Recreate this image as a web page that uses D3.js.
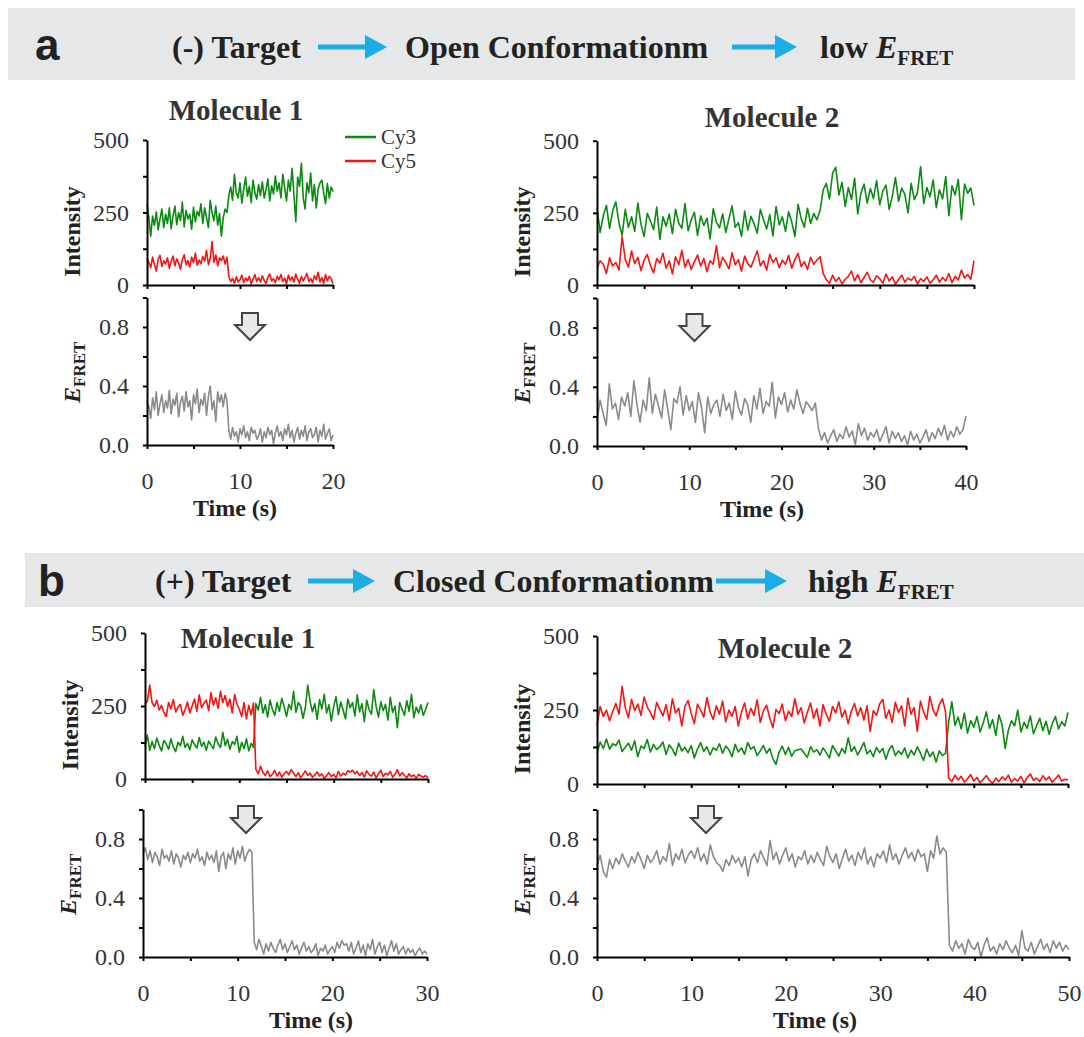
<!DOCTYPE html>
<html>
<head>
<meta charset="utf-8">
<script src="https://cdn.jsdelivr.net/npm/d3@7"></script>
<style>
    body { margin: 0; background: #fff; overflow: hidden; }
    text { font-family: "Liberation Serif", "Times New Roman", serif; }
    .axis path, .axis line { stroke: #000; stroke-width: 2; }
</style>
</head>
<body>
<div id="chart"></div>
<script>
// ---- values (one frame per entry, evenly spaced in time) ----

// panel a, molecule 1 : 0-20 s
var a1Cy3 = [280,232,168,238,205,252,190,228,262,198,
    244,212,266,194,238,272,208,250,222,286,
    200,258,228,244,192,268,218,254,238,280,
    212,266,232,198,292,248,222,272,206,246,
    168,232,262,250,
    310,338,292,382,318,300,
    352,282,330,372,306,340,284,362,318,296,
    346,308,356,300,330,366,290,342,314,376,
    324,352,300,382,336,290,362,324,402,312,
    218,372,340,420,300,262,352,318,386,290,
    346,266,330,352,362,318,280,350,300,338,
    322];
var a1Cy5 = [92,78,60,96,70,48,88,102,64,84,
    72,94,58,82,100,66,90,76,54,88,
    104,70,84,62,96,78,110,68,86,74,
    98,82,120,70,92,150,78,104,66,94,
    84,100,72,96,
    30,12,22,6,28,10,
    18,34,8,24,14,30,4,20,36,12,
    26,10,32,16,6,28,38,14,22,8,
    30,18,36,12,24,4,34,16,28,10,
    38,20,6,30,14,26,40,12,22,8,
    32,18,44,10,26,6,36,14,30,22,
    4];
var a1Fret = [.30,.26,.18,.32,.24,.36,.20,.28,.34,.22,
    .30,.25,.37,.21,.31,.27,.35,.19,.29,.33,
    .23,.36,.26,.30,.17,.34,.28,.38,.22,.31,
    .27,.35,.20,.33,.40,.24,.30,.16,.36,.29,
    .34,.26,.35,.30,
    .10,.04,.12,.06,.09,.02,
    .11,.07,.13,.05,.09,.03,.12,.08,.10,.04,
    .06,.11,.02,.09,.05,.12,.07,.10,.01,.08,
    .13,.06,.09,.03,.11,.07,.14,.05,.10,.02,
    .08,.12,.04,.10,.06,.13,.03,.09,.11,.05,
    .07,.12,.02,.10,.06,.14,.04,.08,.11,.03,
    .07];

// panel a, molecule 2 : 0-40 s
var a2Cy3 = [268,182,240,276,196,258,288,214,172,262,
    200,236,186,284,210,168,248,222,192,270,
    158,236,204,246,178,262,214,196,282,188,
    226,252,172,240,206,232,160,264,218,198,
    246,182,230,274,200,216,168,256,190,238,
    212,180,262,226,194,244,170,272,208,236,
    186,254,218,168,280,230,200,266,214,248,
    226,258,
    330,352,298,388,408,312,356,272,
    338,296,370,246,318,350,284,334,300,362,
    278,326,346,262,308,372,290,336,314,250,
    352,296,320,410,282,338,306,364,268,330,
    298,376,240,344,312,366,226,350,318,336,
    276];
var a2Cy5 = [58,84,72,40,94,66,78,52,168,88,
    62,118,74,96,50,86,106,68,42,92,
    76,110,58,84,38,98,70,120,62,88,
    54,80,104,66,92,46,84,72,136,60,
    96,78,56,112,70,88,48,100,74,62,
    90,118,66,84,52,106,78,94,60,86,
    72,102,58,88,110,64,80,54,96,72,
    86,98,
    40,18,6,34,12,26,4,20,
    30,48,14,36,8,26,44,18,10,32,
    22,6,38,14,28,2,20,34,10,24,
    16,30,4,22,12,28,6,18,34,10,
    26,14,40,8,30,18,52,24,36,20,
    84];
var a2Fret = [.17,.31,.22,.14,.42,.25,.29,.18,.33,.27,
    .36,.20,.44,.28,.16,.31,.24,.46,.22,.35,
    .27,.19,.38,.25,.11,.32,.29,.40,.21,.34,
    .24,.30,.16,.36,.26,.09,.33,.22,.28,.31,
    .20,.35,.24,.29,.18,.37,.26,.21,.32,.28,
    .16,.34,.25,.39,.22,.30,.27,.43,.19,.33,
    .28,.36,.23,.31,.25,.38,.29,.22,.30,.27,
    .24,.29,
    .12,.04,.09,.02,.07,.11,.03,.08,
    .05,.13,.06,.10,.01,.15,.07,.12,.04,.09,
    .06,.11,.03,.08,.13,.02,.10,.05,.09,.03,
    .07,.01,.10,.04,.08,.02,.06,.11,.03,.09,
    .05,.12,.07,.14,.04,.10,.06,.13,.08,.11,
    .20];

// panel b, molecule 1 : 0-30 s
var b1Cy3 = [112,150,98,128,104,140,116,96,132,120,
    102,138,110,94,126,114,146,108,122,100,
    134,118,106,142,112,126,98,130,116,104,
    144,120,108,160,114,136,102,128,118,146,
    92,126,104,138,96,122,108,
    258,236,280,
    226,254,212,270,240,218,262,232,276,248,
    214,256,238,300,228,262,250,208,244,322,
    266,230,258,204,272,240,290,226,254,198,
    248,282,220,264,236,206,274,244,262,216,
    288,230,258,196,270,238,222,306,248,212,
    264,234,256,202,280,228,250,176,262,240,
    218,268,232,290,210,246,226,254,218,238,
    262];
var b1Cy5 = [258,266,322,262,248,270,236,252,228,214,
    262,240,272,230,246,256,218,238,264,226,
    250,274,232,288,244,260,270,234,296,252,
    278,242,300,262,286,248,274,226,290,256,
    238,214,262,206,252,220,260,
    34,18,44,
    22,12,28,8,16,30,10,24,6,18,
    26,14,32,20,8,22,4,16,28,12,
    20,6,14,24,10,18,2,12,22,8,
    16,4,26,10,20,14,28,24,30,18,
    26,12,22,6,28,16,10,24,4,18,
    30,8,20,14,26,6,16,32,10,22,
    12,4,18,8,14,2,16,10,6,12,
    4];
var b1Fret = [.70,.74,.66,.72,.64,.71,.68,.62,.73,.67,
    .69,.65,.72,.63,.70,.67,.61,.69,.66,.71,
    .64,.70,.67,.73,.65,.68,.62,.71,.66,.69,
    .64,.72,.58,.68,.71,.60,.70,.66,.74,.63,
    .72,.67,.75,.65,.70,.73,.71,
    .10,.05,.12,
    .07,.02,.09,.04,.10,.06,.03,.08,.12,.05,
    .09,.03,.07,.11,.05,.08,.02,.06,.10,.04,
    .07,.03,.05,.09,.01,.06,.04,.08,.02,.05,
    .07,.03,.10,.06,.11,.08,.09,.04,.10,.02,
    .06,.11,.03,.08,.01,.09,.05,.12,.02,.07,
    .10,.03,.08,.01,.06,.11,.04,.09,.02,.05,
    .07,.02,.06,.03,.05,.01,.04,.06,.02,.04,
    .02];

// panel b, molecule 2 : 0-50 s
var b2Cy3 = [104,142,120,152,118,136,130,148,110,124,
    138,114,146,92,128,120,150,108,134,116,
    126,142,100,132,118,96,138,112,124,106,
    130,88,118,140,110,126,98,122,114,136,
    104,128,116,92,134,108,122,100,140,118,
    126,96,112,130,104,120,86,66,108,128,
    100,124,94,112,116,118,104,90,126,108,
    116,98,122,106,88,130,112,94,120,104,
    156,110,126,98,118,140,102,114,92,124,
    106,120,84,116,130,96,112,100,122,88,
    114,98,126,104,80,118,92,108,74,112,
    96,104,
    210,278,198,226,186,240,172,214,
    192,228,176,206,244,188,218,164,234,200,
    120,182,214,196,250,176,208,188,230,170,
    196,222,180,212,168,204,228,186,210,196,
    242];
var b2Cy5 = [196,262,228,250,214,244,272,236,330,258,
    224,286,248,270,232,294,260,242,218,276,
    252,230,268,214,288,240,256,196,262,282,
    238,204,270,250,226,292,244,218,264,236,
    280,210,250,228,262,196,242,274,220,256,
    232,284,208,248,266,224,190,252,238,270,
    214,246,228,288,236,258,206,242,274,222,
    254,196,268,236,212,262,240,278,226,250,
    204,246,272,230,258,216,264,178,248,232,
    270,286,222,250,208,276,242,264,196,290,
    236,258,178,280,244,218,296,252,230,268,
    288,244,
    20,8,30,14,26,6,18,32,
    10,22,4,16,28,12,2,20,8,24,
    14,30,6,18,10,26,4,22,34,12,
    20,8,28,14,24,6,18,30,10,16,
    14];
var b2Fret = [.62,.69,.58,.54,.66,.60,.67,.63,.70,.65,
    .61,.68,.64,.71,.66,.60,.69,.64,.67,.72,
    .63,.68,.65,.77,.62,.70,.66,.73,.64,.69,
    .72,.67,.74,.65,.70,.63,.76,.68,.64,.62,
    .58,.66,.62,.69,.64,.67,.61,.68,.55,.66,
    .70,.64,.72,.67,.62,.79,.66,.71,.63,.69,
    .74,.65,.70,.61,.68,.66,.72,.63,.69,.64,
    .71,.66,.62,.75,.68,.64,.70,.60,.67,.73,
    .65,.69,.62,.71,.66,.74,.63,.68,.61,.70,
    .67,.72,.64,.76,.66,.70,.63,.69,.74,.67,
    .71,.65,.73,.68,.70,.58,.72,.67,.82,.70,
    .74,.71,
    .08,.04,.11,.06,.09,.02,.12,.07,
    .05,.10,.00,.08,.13,.04,.07,.02,.09,.05,
    .11,.06,.03,.08,.01,.18,.06,.04,.10,.02,
    .07,.12,.05,.09,.03,.11,.06,.10,.04,.08,
    .05];

// axis ticks and labels
var intensityTicks = [0, 125, 250, 375, 500];
var intensityLabels = [0, 250, 500];
var fretTicks = [0, 0.2, 0.4, 0.6, 0.8, 1.0];
var fretLabels = [0, 0.4, 0.8];
var legendNames = ["Cy3", "Cy5"];

var green = "#0b8a12", red = "#f51414", gray = "#8a8a8a", cyan = "#1aade8";

// ---- layout of the four molecule panels ----
var panels = [
    { title: "Molecule 1", titleX: 236, titleY: 120, tMax: 20,
      ix: [147, 333], iy: [285, 140], fx: [147, 333], fy: [445, 297.5],
      timeX: 235, arrow: [250, 313], legend: true,
      cy3: a1Cy3, cy5: a1Cy5, fret: a1Fret },
    { title: "Molecule 2", titleX: 772, titleY: 127, tMax: 40,
      ix: [597, 974], iy: [285, 140.7], fx: [597, 966], fy: [446, 298],
      timeX: 762, arrow: [694.5, 314], legend: false,
      cy3: a2Cy3, cy5: a2Cy5, fret: a2Fret },
    { title: "Molecule 1", titleX: 248, titleY: 648, tMax: 30,
      ix: [145, 428], iy: [779, 633], fx: [143, 427], fy: [957, 809.5],
      timeX: 311, arrow: [246, 806], legend: false,
      cy3: b1Cy3, cy5: b1Cy5, fret: b1Fret },
    { title: "Molecule 2", titleX: 785, titleY: 658, tMax: 50,
      ix: [597, 1068], iy: [784, 636], fx: [597, 1069], fy: [957, 809.5],
      timeX: 815, arrow: [706, 806], legend: false,
      cy3: b2Cy3, cy5: b2Cy5, fret: b2Fret }
];

var svg = d3.select("#chart").append("svg")
    .attr("width", 1084)
    .attr("height", 1037);

// ---- header bands ----
function drawArrow(x0, x1, y) {
    svg.append("line")
        .attr("x1", x0).attr("x2", x1 - 18)
        .attr("y1", y).attr("y2", y)
        .attr("stroke", cyan).attr("stroke-width", 5);
    svg.append("path")
        .attr("d", "M" + (x1 - 22) + "," + (y - 12) + "L" + x1 + "," + y + "L" + (x1 - 22) + "," + (y + 12) + "Z")
        .attr("fill", cyan);
}

function drawHeader(band, letter, items, arrows, base) {
    svg.append("rect")
        .attr("x", band[0]).attr("y", band[1])
        .attr("width", band[2]).attr("height", band[3])
        .attr("fill", "#e6e7e8");
    svg.append("text")
        .attr("x", letter[1]).attr("y", letter[2])
        .style("font-family", "'Liberation Sans', Arial, sans-serif")
        .style("font-weight", "bold").style("font-size", "44px")
        .attr("fill", "#222")
        .text(letter[0]);
    items.forEach(function (it) {
        var t = svg.append("text")
            .attr("x", it.x).attr("y", base)
            .style("font-weight", "bold").style("font-size", "32px")
            .attr("fill", "#222");
        t.append("tspan").text(it.text);
        if (it.efret) {
            t.append("tspan").style("font-style", "italic").text("E");
            t.append("tspan").style("font-size", "21px").attr("dy", 7).text("FRET");
        }
    });
    arrows.forEach(function (a) { drawArrow(a[0], a[1], base - 11); });
}

drawHeader([8, 8, 1067, 72], ["a", 35, 60],
    [{ x: 172, text: "(-) Target" }, { x: 405, text: "Open Conformationm" }, { x: 820, text: "low ", efret: true }],
    [[318, 387], [732, 797]], 58);

drawHeader([25, 553, 1059, 54], ["b", 38, 596],
    [{ x: 155, text: "(+) Target" }, { x: 393, text: "Closed Conformationm" }, { x: 808, text: "high ", efret: true }],
    [[308, 375], [716, 787]], 592);

// ---- molecule panels ----
function yLabel(x, y, isFret) {
    var t = svg.append("text")
        .attr("transform", "translate(" + x + "," + y + ") rotate(-90)")
        .attr("text-anchor", "middle")
        .style("font-weight", "bold").style("font-size", "24px")
        .attr("fill", "#222");
    if (isFret) {
        t.append("tspan").style("font-style", "italic").text("E");
        t.append("tspan").style("font-size", "17px").attr("dy", 5).text("FRET");
    } else {
        t.text("Intensity");
    }
}

// serif tick labels (d3 axis puts sans-serif on the group)
function styleAxis(g) {
    g.attr("font-family", null).attr("font-size", null);
    g.selectAll("text")
        .style("font-family", "'Liberation Serif', 'Times New Roman', serif")
        .style("font-size", "24px")
        .attr("fill", "#333");
}

panels.forEach(function (p) {
    var xI = d3.scaleLinear().domain([0, p.tMax]).range(p.ix);
    var yI = d3.scaleLinear().domain([0, 500]).range(p.iy);
    var xF = d3.scaleLinear().domain([0, p.tMax]).range(p.fx);
    var yF = d3.scaleLinear().domain([0, 1]).range(p.fy);
    var xTicks = d3.range(0, p.tMax + 0.01, 5);

    // title
    svg.append("text")
        .attr("x", p.titleX).attr("y", p.titleY)
        .attr("text-anchor", "middle")
        .style("font-weight", "bold").style("font-size", "29px")
        .attr("fill", "#333")
        .text(p.title);

    // traces
    function trace(arr, xs, ys, color) {
        var line = d3.line()
            .x(function (d, i) { return xs(i * p.tMax / (arr.length - 1)); })
            .y(function (d) { return ys(d); });
        svg.append("path")
            .datum(arr)
            .attr("d", line)
            .attr("fill", "none")
            .attr("stroke", color)
            .attr("stroke-width", 1.6)
            .attr("stroke-linejoin", "round");
    }
    trace(p.cy3, xI, yI, green);
    trace(p.cy5, xI, yI, red);
    trace(p.fret, xF, yF, gray);

    // intensity axes
    svg.append("g").attr("class", "axis")
        .attr("transform", "translate(0," + p.iy[0] + ")")
        .call(d3.axisBottom(xI).tickValues(xTicks).tickSize(4).tickSizeOuter(0).tickFormat(""))
        .call(styleAxis);
    svg.append("g").attr("class", "axis")
        .attr("transform", "translate(" + p.ix[0] + ",0)")
        .call(d3.axisLeft(yI).tickValues(intensityTicks).tickSize(4).tickSizeOuter(0).tickPadding(14)
            .tickFormat(function (d) { return intensityLabels.indexOf(d) >= 0 ? d : ""; }))
        .call(styleAxis);

    // FRET axes
    svg.append("g").attr("class", "axis")
        .attr("transform", "translate(0," + p.fy[0] + ")")
        .call(d3.axisBottom(xF).tickValues(xTicks).tickSize(4).tickSizeOuter(0).tickPadding(23)
            .tickFormat(function (d) { return d % 10 === 0 ? d : ""; }))
        .call(styleAxis);
    svg.append("g").attr("class", "axis")
        .attr("transform", "translate(" + p.fx[0] + ",0)")
        .call(d3.axisLeft(yF).tickValues(fretTicks).tickSize(4).tickSizeOuter(0).tickPadding(14)
            .tickFormat(function (d) { return fretLabels.indexOf(d) >= 0 ? d3.format(".1f")(d) : ""; }))
        .call(styleAxis);

    // axis titles
    yLabel(p.ix[0] - 67, (p.iy[0] + p.iy[1]) / 2 + 19, false);
    yLabel(p.fx[0] - 67, (p.fy[0] + p.fy[1]) / 2 + 1, true);
    svg.append("text")
        .attr("x", p.timeX).attr("y", p.fy[0] + 71)
        .attr("text-anchor", "middle")
        .style("font-weight", "bold").style("font-size", "24px")
        .attr("fill", "#222")
        .text("Time (s)");

    // hollow down arrow
    var ax = p.arrow[0], ay = p.arrow[1];
    svg.append("path")
        .attr("d", "M" + (ax - 8) + "," + ay + "H" + (ax + 8) + "V" + (ay + 12) + "H" + (ax + 15) +
            "L" + ax + "," + (ay + 27) + "L" + (ax - 15) + "," + (ay + 12) + "H" + (ax - 8) + "Z")
        .attr("fill", "#e8e8e8")
        .attr("stroke", "#444")
        .attr("stroke-width", 2)
        .attr("stroke-linejoin", "miter");

    // legend
    if (p.legend) {
        [green, red].forEach(function (c, i) {
            var ly = 137 + i * 24;
            svg.append("line")
                .attr("x1", 345).attr("x2", 376)
                .attr("y1", ly).attr("y2", ly)
                .attr("stroke", c).attr("stroke-width", 2.5);
            svg.append("text")
                .attr("x", 381).attr("y", ly + 7)
                .style("font-size", "21px")
                .attr("fill", "#333")
                .text(legendNames[i]);
        });
    }
});
</script>
</body>
</html>
